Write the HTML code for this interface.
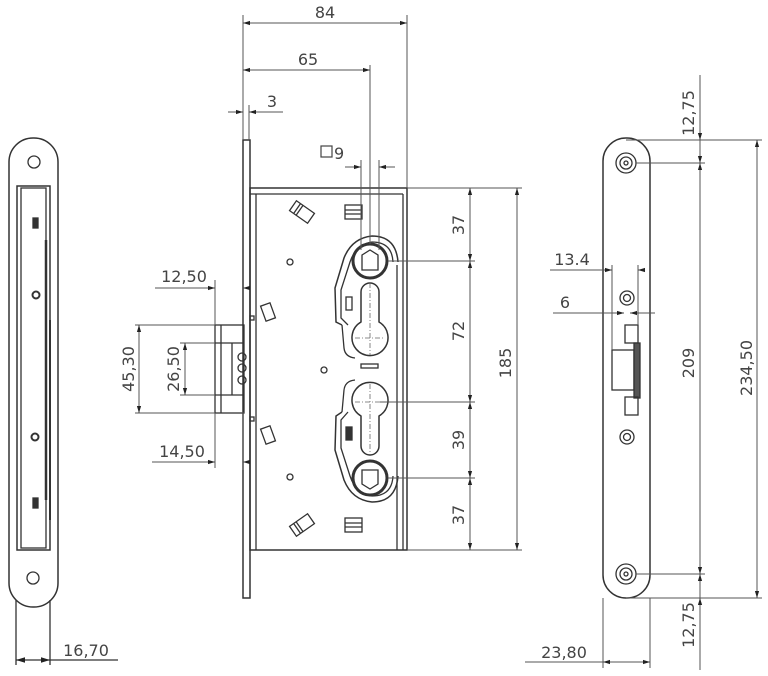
<!DOCTYPE html>
<html><head><style>
html,body{margin:0;padding:0;background:#fff}
svg{display:block}
text{font-family:"DejaVu Sans","Liberation Sans",sans-serif;font-size:16px;fill:#444}
</style></head><body>
<svg width="768" height="676" viewBox="0 0 768 676" xmlns="http://www.w3.org/2000/svg">
<defs>
<marker id="a" viewBox="0 0 10 6" refX="10" refY="3" markerWidth="7" markerHeight="5" orient="auto-start-reverse"><path d="M0,0L10,3L0,6z" fill="#222"/></marker>
</defs>
<g fill="none" stroke="#333" stroke-width="1.3">
<!-- LEFT side view -->
<rect x="9" y="138" width="49" height="469" rx="24" stroke-width="1.5"/>
<circle cx="34" cy="162" r="6"/>
<circle cx="33" cy="578" r="6"/>
<rect x="17" y="186" width="33" height="364" stroke-width="1.5"/>
<rect x="21" y="188" width="25" height="360"/>
<line x1="46" y1="240" x2="46" y2="500" stroke-width="2.5"/>
<line x1="50" y1="320" x2="50" y2="520" stroke-width="2"/>
<rect x="33" y="218" width="5" height="10" fill="#333"/>
<rect x="33" y="498" width="5" height="10" fill="#333"/>
<circle cx="36" cy="295" r="3.5" stroke-width="2"/>
<circle cx="35" cy="437" r="3.5" stroke-width="2"/>
<line x1="16" y1="600" x2="16" y2="665"/>
<line x1="50" y1="600" x2="50" y2="665"/>
<line x1="16" y1="660" x2="50" y2="660" marker-start="url(#a)" marker-end="url(#a)"/>
<line x1="50" y1="660" x2="118" y2="660"/>

<!-- MIDDLE -->
<rect x="243" y="140" width="7" height="458" stroke-width="1.5"/>
<rect x="250" y="188" width="157" height="362" stroke-width="1.5"/>
<line x1="250" y1="194" x2="403" y2="194"/>
<line x1="256" y1="194" x2="256" y2="550"/>
<line x1="397" y1="265" x2="397" y2="550"/>
<line x1="403" y1="194" x2="403" y2="550"/>
<!-- latch -->
<rect x="215" y="325" width="29" height="88"/>
<line x1="221" y1="325" x2="221" y2="413"/>
<line x1="215" y1="343" x2="244" y2="343"/>
<line x1="215" y1="395" x2="244" y2="395"/>
<line x1="232" y1="343" x2="232" y2="395"/>
<circle cx="242" cy="357" r="4"/><circle cx="242" cy="368" r="4"/><circle cx="242" cy="380" r="4"/>
<!-- small parts -->
<g transform="translate(302,212) rotate(35)"><rect x="-11" y="-6" width="22" height="12"/><line x1="-6" y1="-6" x2="-6" y2="6"/><line x1="-3" y1="-6" x2="-3" y2="6"/></g>
<g transform="translate(302,525) rotate(-35)"><rect x="-11" y="-6" width="22" height="12"/><line x1="-6" y1="-6" x2="-6" y2="6"/><line x1="-3" y1="-6" x2="-3" y2="6"/></g>
<rect x="345" y="205" width="17" height="14"/><line x1="345" y1="210" x2="362" y2="210"/><line x1="345" y1="214" x2="362" y2="214"/>
<rect x="345" y="518" width="17" height="14"/><line x1="345" y1="523" x2="362" y2="523"/><line x1="345" y1="527" x2="362" y2="527"/>
<circle cx="290" cy="262" r="3"/>
<circle cx="324" cy="370" r="3"/>
<circle cx="290" cy="477" r="3"/>
<g transform="translate(268,312) rotate(-20)"><rect x="-5" y="-8" width="10" height="16"/></g>
<g transform="translate(268,435) rotate(-20)"><rect x="-5" y="-8" width="10" height="16"/></g>
<rect x="250" y="316" width="4" height="4"/><rect x="250" y="417" width="4" height="4"/>
<!-- cams -->
<path d="M342,325 L336,322 L335,288 L344,258 Q352,238 372,236 Q396,236 398,262" stroke-width="1.5"/>
<path d="M348,325 L341,318 L341,290 L350,262 Q356,244 372,242 Q392,242 393,262"/>
<path d="M342,325 L344,348 Q345,357 355,358"/>
<path d="M342,412 L336,416 L335,450 L344,480 Q352,500 372,502 Q396,502 398,476" stroke-width="1.5"/>
<path d="M348,412 L341,420 L341,448 L350,476 Q356,494 372,496 Q392,496 393,476"/>
<path d="M342,412 L344,390 Q345,381 355,380"/>
<circle cx="370" cy="261" r="17" stroke-width="3"/>
<path d="M362,255 L370,250 L378,255 L378,270 L362,270 z"/>
<circle cx="370" cy="478" r="17" stroke-width="3"/>
<path d="M362,470 L378,470 L378,484 L370,489 L362,484 z"/>
<path d="M361,292 A9,9 0 0 1 379,292 L379,322 A18,18 0 1 1 361,322 z" stroke-width="1.5"/>
<path d="M361,446 A9,9 0 0 0 379,446 L379,416 A18,18 0 1 0 361,416 z" stroke-width="1.5"/>
<rect x="346" y="297" width="6" height="13"/>
<rect x="346" y="427" width="6" height="13" fill="#333"/>
<rect x="361" y="364" width="17" height="4"/>
</g>
<g stroke="#666" stroke-width="0.8" stroke-dasharray="5,2,1,2" fill="none">
<line x1="370" y1="283" x2="370" y2="355"/><line x1="355" y1="338" x2="385" y2="338"/>
<line x1="370" y1="384" x2="370" y2="456"/><line x1="355" y1="402" x2="385" y2="402"/>
</g>
<g fill="none" stroke="#555" stroke-width="1">
<!-- top dims -->
<line x1="243" y1="15" x2="243" y2="140"/>
<line x1="407" y1="15" x2="407" y2="188"/>
<line x1="370" y1="65" x2="370" y2="244"/>
<line x1="249" y1="105" x2="249" y2="140"/>
<line x1="243" y1="23" x2="407" y2="23" marker-start="url(#a)" marker-end="url(#a)"/>
<line x1="243" y1="70" x2="370" y2="70" marker-start="url(#a)" marker-end="url(#a)"/>
<line x1="228" y1="112" x2="243" y2="112" marker-end="url(#a)"/>
<line x1="249" y1="112" x2="283" y2="112" marker-start="url(#a)"/>
<line x1="361" y1="160" x2="361" y2="250"/>
<line x1="379" y1="160" x2="379" y2="250"/>
<line x1="345" y1="167" x2="361" y2="167" marker-end="url(#a)"/>
<line x1="379" y1="167" x2="395" y2="167" marker-start="url(#a)"/>
<!-- latch dims -->
<line x1="215" y1="280" x2="215" y2="325"/>
<line x1="155" y1="288" x2="215" y2="288" marker-end="url(#a)"/>
<line x1="243" y1="288" x2="250" y2="288" marker-start="url(#a)"/>
<line x1="215" y1="413" x2="215" y2="468"/>
<line x1="152" y1="462" x2="215" y2="462" marker-end="url(#a)"/>
<line x1="243" y1="462" x2="250" y2="462" marker-start="url(#a)"/>
<line x1="243" y1="412" x2="243" y2="470"/>
<line x1="135" y1="325" x2="215" y2="325"/>
<line x1="135" y1="413" x2="215" y2="413"/>
<line x1="139" y1="325" x2="139" y2="413" marker-start="url(#a)" marker-end="url(#a)"/>
<line x1="180" y1="343" x2="215" y2="343"/>
<line x1="180" y1="395" x2="215" y2="395"/>
<line x1="185" y1="343" x2="185" y2="395" marker-start="url(#a)" marker-end="url(#a)"/>
<!-- right dims middle -->
<line x1="407" y1="188" x2="522" y2="188"/>
<line x1="407" y1="550" x2="522" y2="550"/>
<line x1="388" y1="261" x2="475" y2="261"/>
<line x1="380" y1="402" x2="475" y2="402"/>
<line x1="388" y1="478" x2="475" y2="478"/>
<line x1="470" y1="188" x2="470" y2="261" marker-start="url(#a)" marker-end="url(#a)"/>
<line x1="470" y1="261" x2="470" y2="402" marker-start="url(#a)" marker-end="url(#a)"/>
<line x1="470" y1="402" x2="470" y2="478" marker-start="url(#a)" marker-end="url(#a)"/>
<line x1="470" y1="478" x2="470" y2="550" marker-start="url(#a)" marker-end="url(#a)"/>
<line x1="517" y1="188" x2="517" y2="550" marker-start="url(#a)" marker-end="url(#a)"/>
</g>
<g fill="none" stroke="#333" stroke-width="1.3">
<!-- RIGHT front -->
<rect x="603" y="138" width="47" height="460" rx="23" stroke-width="1.5"/>
<circle cx="626" cy="163" r="10"/><circle cx="626" cy="163" r="6"/><circle cx="626" cy="163" r="2"/>
<circle cx="626" cy="574" r="10"/><circle cx="626" cy="574" r="6"/><circle cx="626" cy="574" r="2"/>
<circle cx="627" cy="298" r="7"/><circle cx="627" cy="298" r="3.5"/>
<circle cx="627" cy="437" r="7"/><circle cx="627" cy="437" r="3.5"/>
<rect x="625" y="325" width="13" height="18"/>
<rect x="612" y="350" width="22" height="40"/>
<rect x="634" y="343" width="6" height="55" fill="#555"/>
<rect x="625" y="397" width="13" height="18"/>
</g>
<g fill="none" stroke="#555" stroke-width="1">
<line x1="612" y1="265" x2="612" y2="350"/>
<line x1="638" y1="265" x2="638" y2="325"/>
<line x1="550" y1="270" x2="612" y2="270" marker-end="url(#a)"/>
<line x1="638" y1="270" x2="645" y2="270" marker-start="url(#a)"/>
<line x1="553" y1="313" x2="624" y2="313" marker-end="url(#a)"/>
<line x1="630" y1="313" x2="655" y2="313" marker-start="url(#a)"/>
<line x1="626" y1="140" x2="762" y2="140"/>
<line x1="636" y1="163" x2="705" y2="163"/>
<line x1="636" y1="574" x2="705" y2="574"/>
<line x1="626" y1="598" x2="762" y2="598"/>
<line x1="700" y1="75" x2="700" y2="140" marker-end="url(#a)"/>
<line x1="700" y1="140" x2="700" y2="163" marker-end="url(#a)"/>
<line x1="700" y1="163" x2="700" y2="574" marker-start="url(#a)" marker-end="url(#a)"/>
<line x1="700" y1="574" x2="700" y2="598" marker-start="url(#a)"/>
<line x1="700" y1="598" x2="700" y2="670" marker-start="url(#a)"/>
<line x1="757" y1="140" x2="757" y2="598" marker-start="url(#a)" marker-end="url(#a)"/>
<line x1="603" y1="598" x2="603" y2="668"/>
<line x1="650" y1="598" x2="650" y2="668"/>
<line x1="525" y1="662" x2="603" y2="662"/>
<line x1="603" y1="662" x2="650" y2="662" marker-start="url(#a)" marker-end="url(#a)"/>
</g>
<g>
<text x="325" y="18" text-anchor="middle">84</text>
<text x="308" y="65" text-anchor="middle">65</text>
<text x="272" y="107" text-anchor="middle">3</text>
<rect x="321" y="146" width="11" height="11" fill="none" stroke="#444" stroke-width="1.2"/>
<text x="334" y="159">9</text>
<text x="184" y="282" text-anchor="middle">12,50</text>
<text x="182" y="457" text-anchor="middle">14,50</text>
<text x="86" y="656" text-anchor="middle">16,70</text>
<text x="572" y="265" text-anchor="middle">13.4</text>
<text x="565" y="308" text-anchor="middle">6</text>
<text x="564" y="658" text-anchor="middle">23,80</text>
<text transform="translate(134,369) rotate(-90)" text-anchor="middle">45,30</text>
<text transform="translate(179,369) rotate(-90)" text-anchor="middle">26,50</text>
<text transform="translate(464,225) rotate(-90)" text-anchor="middle">37</text>
<text transform="translate(464,331) rotate(-90)" text-anchor="middle">72</text>
<text transform="translate(464,440) rotate(-90)" text-anchor="middle">39</text>
<text transform="translate(464,515) rotate(-90)" text-anchor="middle">37</text>
<text transform="translate(511,363) rotate(-90)" text-anchor="middle">185</text>
<text transform="translate(694,363) rotate(-90)" text-anchor="middle">209</text>
<text transform="translate(752,368) rotate(-90)" text-anchor="middle">234,50</text>
<text transform="translate(694,113) rotate(-90)" text-anchor="middle">12,75</text>
<text transform="translate(694,625) rotate(-90)" text-anchor="middle">12,75</text>
</g>
</svg>
</body></html>
